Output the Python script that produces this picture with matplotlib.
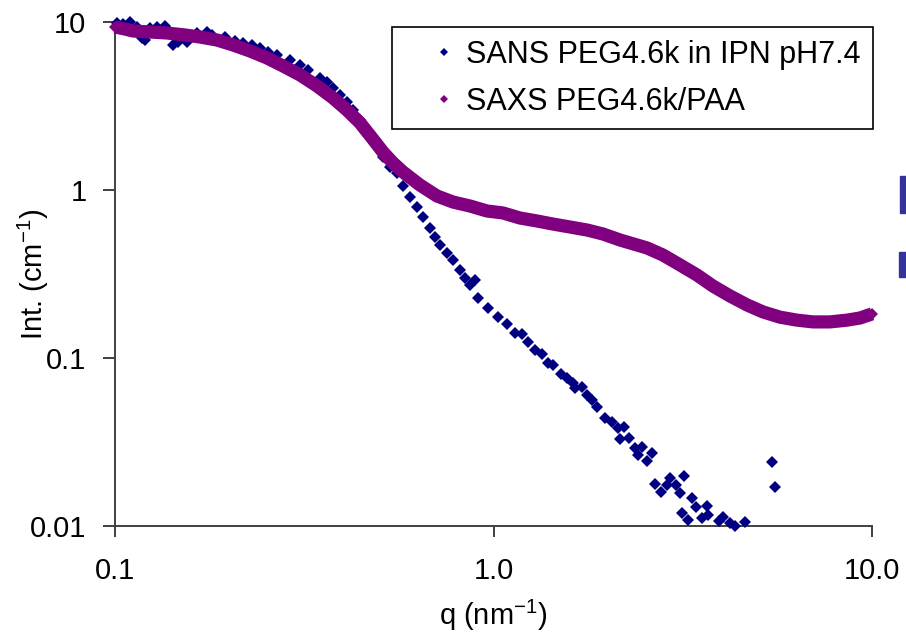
import matplotlib
matplotlib.use('Agg')
import matplotlib.pyplot as plt
from matplotlib.lines import Line2D
from matplotlib.patches import Rectangle

plt.rcParams['font.family'] = ['Liberation Sans', 'DejaVu Sans']
plt.rcParams['mathtext.fontset'] = 'custom'
plt.rcParams['mathtext.rm'] = 'Liberation Sans'
plt.rcParams['mathtext.default'] = 'regular'

# ---- data ----
series_labels = ['SANS PEG4.6k in IPN pH7.4', 'SAXS PEG4.6k/PAA']

sans_q = [0.1010, 0.1052, 0.1095, 0.1141, 0.1176, 0.1200, 0.1238, 0.1289, 0.1355, 0.1397,
          0.1426, 0.1470, 0.1547, 0.1644, 0.1747, 0.1801, 0.1894, 0.1953, 0.2075, 0.2183,
          0.2297, 0.2416, 0.2541, 0.2675, 0.2900, 0.3082, 0.3241, 0.3480, 0.3624, 0.3774,
          0.3931, 0.4095, 0.4262, 0.4439, 0.4624, 0.4913, 0.5116, 0.5328, 0.5549, 0.5776,
          0.6016, 0.6267, 0.6523, 0.6795, 0.7005, 0.7225, 0.7525, 0.7830, 0.8156, 0.8409,
          0.8668, 0.8935, 0.9117, 0.9689, 1.030, 1.084, 1.140, 1.187, 1.236, 1.287,
          1.341, 1.396, 1.439, 1.505, 1.561, 1.625, 1.641, 1.710, 1.763, 1.817,
          1.873, 1.971, 2.053, 2.129, 2.212, 2.159, 2.280, 2.365, 2.413, 2.463,
          2.544, 2.618, 2.671, 2.771, 2.866, 2.927, 3.044, 3.110, 3.187, 3.148,
          3.271, 3.340, 3.438, 3.548, 3.658, 3.693, 3.950, 4.032, 4.205, 4.358,
          4.618, 5.442, 5.559]
sans_I = [9.82, 9.73, 10.04, 9.38, 8.00, 7.81, 9.17, 9.30, 9.47, 8.76,
          7.30, 7.63, 7.63, 8.56, 8.76, 8.37, 7.81, 8.11, 7.74, 7.47,
          7.30, 6.97, 6.66, 6.36, 5.94, 5.55, 5.18, 4.62, 4.41, 4.03,
          3.68, 3.36, 2.99, 2.61, 2.28, 1.90, 1.58, 1.38, 1.26, 1.05,
          0.912, 0.796, 0.694, 0.592, 0.527, 0.471, 0.420, 0.383, 0.334, 0.298,
          0.272, 0.291, 0.227, 0.198, 0.176, 0.159, 0.1415, 0.139, 0.125, 0.1116,
          0.1056, 0.0930, 0.0909, 0.0803, 0.0757, 0.0710, 0.0660, 0.0675, 0.0602, 0.0563,
          0.0513, 0.0438, 0.0418, 0.0382, 0.0390, 0.0330, 0.0333, 0.0290, 0.0265, 0.0295,
          0.0245, 0.0271, 0.0179, 0.0159, 0.0175, 0.0194, 0.0175, 0.0157, 0.0199, 0.0120,
          0.0108, 0.0146, 0.0130, 0.0111, 0.0132, 0.0117, 0.0107, 0.0113, 0.0104, 0.0100,
          0.0106, 0.0239, 0.0171]

saxs_q = [0.100, 0.1063, 0.1116, 0.1238, 0.1372, 0.1531, 0.1677, 0.1860, 0.2050, 0.2274,
          0.2521, 0.2780, 0.3082, 0.3418, 0.3767, 0.4101, 0.4439, 0.4775, 0.5107, 0.5426,
          0.5766, 0.6394, 0.7091, 0.7815, 0.8668, 0.9612, 1.059, 1.175, 1.303, 1.436,
          1.593, 1.766, 1.947, 2.159, 2.544, 2.804, 3.110, 3.448, 3.801, 4.215,
          4.674, 5.152, 5.714, 6.337, 6.985, 7.745, 8.589, 9.296, 10.0]
saxs_I = [9.34, 9.08, 8.84, 8.72, 8.60, 8.37, 8.14, 7.81, 7.30, 6.72,
          6.11, 5.47, 4.84, 4.16, 3.53, 2.99, 2.51, 2.04, 1.68, 1.45,
          1.28, 1.07, 0.921, 0.848, 0.803, 0.750, 0.730, 0.681, 0.654, 0.627,
          0.602, 0.578, 0.547, 0.504, 0.452, 0.410, 0.358, 0.312, 0.268, 0.234,
          0.207, 0.188, 0.175, 0.168, 0.164, 0.164, 0.168, 0.173, 0.183]

x_ticks = [0.1, 1.0, 10.0]
x_tick_labels = ['0.1', '1.0', '10.0']
y_ticks = [0.01, 0.1, 1, 10]
y_tick_labels = ['0.01', '0.1', '1', '10']

SANS_COLOR = '#000080'
SAXS_COLOR = '#800080'
AXIS_COLOR = '#404040'

W, H = 906, 635
fig = plt.figure(figsize=(W / 100, H / 100), dpi=100)
ax = fig.add_axes([115 / W, 1 - 526 / H, 757 / W, 504 / H])
ax.set_xscale('log')
ax.set_yscale('log')
ax.set_xlim(0.1, 10)
ax.set_ylim(0.01, 10)

ax.plot(sans_q, sans_I, ls='none', marker='D', ms=6.0, mew=0, color=SANS_COLOR,
        clip_on=False, zorder=3)
ax.plot(saxs_q, saxs_I, ls='-', lw=9.5, color=SAXS_COLOR, solid_joinstyle='round',
        solid_capstyle='butt', marker='D', ms=6.5, mew=0, clip_on=False, zorder=4)

for s in ('top', 'right'):
    ax.spines[s].set_visible(False)
for s in ('left', 'bottom'):
    ax.spines[s].set_color(AXIS_COLOR)
    ax.spines[s].set_linewidth(1.4)

ax.set_xticks(x_ticks, x_tick_labels)
ax.set_yticks(y_ticks, y_tick_labels)
ax.minorticks_off()
ax.tick_params(axis='x', direction='out', length=8, width=1.4, color=AXIS_COLOR,
               pad=14, labelsize=21, labelcolor='black')
ax.tick_params(axis='y', direction='out', length=8.6, width=1.4, color=AXIS_COLOR,
               pad=12, labelsize=21, labelcolor='black')

ax.set_xlabel('q (nm$^{-1}$)', fontsize=21)
ax.xaxis.set_label_coords(0.5, -0.142)
ax.set_ylabel('Int. (cm$^{-1}$)', fontsize=21)
ax.yaxis.set_label_coords(-0.085, 0.5)

handles = [Line2D([], [], ls='none', marker='D', ms=4.3, mew=0, color=SANS_COLOR),
           Line2D([], [], ls='none', marker='D', ms=4.3, mew=0, color=SAXS_COLOR)]
leg = ax.legend(handles, series_labels, loc='upper right',
                bbox_to_anchor=(873 / W, 1 - 27 / H), bbox_transform=fig.transFigure,
                fontsize=22, frameon=True, fancybox=False, shadow=False,
                borderpad=0.42, labelspacing=0.55, handlelength=2.55,
                handletextpad=-0.55, borderaxespad=0)
leg.get_frame().set_edgecolor('black')
leg.get_frame().set_linewidth(1.2)
leg.get_frame().set_facecolor('white')
leg.get_frame().set_alpha(1)

# clipped fragments visible at the right edge of the reference
fig.patches.append(Rectangle((900 / W, 1 - 213 / H), 6 / W, 37 / H,
                             transform=fig.transFigure, color='#333399'))
fig.patches.append(Rectangle((899 / W, 1 - 277 / H), 7 / W, 25 / H,
                             transform=fig.transFigure, color='#333399'))

fig.savefig('out.png', dpi=100)
